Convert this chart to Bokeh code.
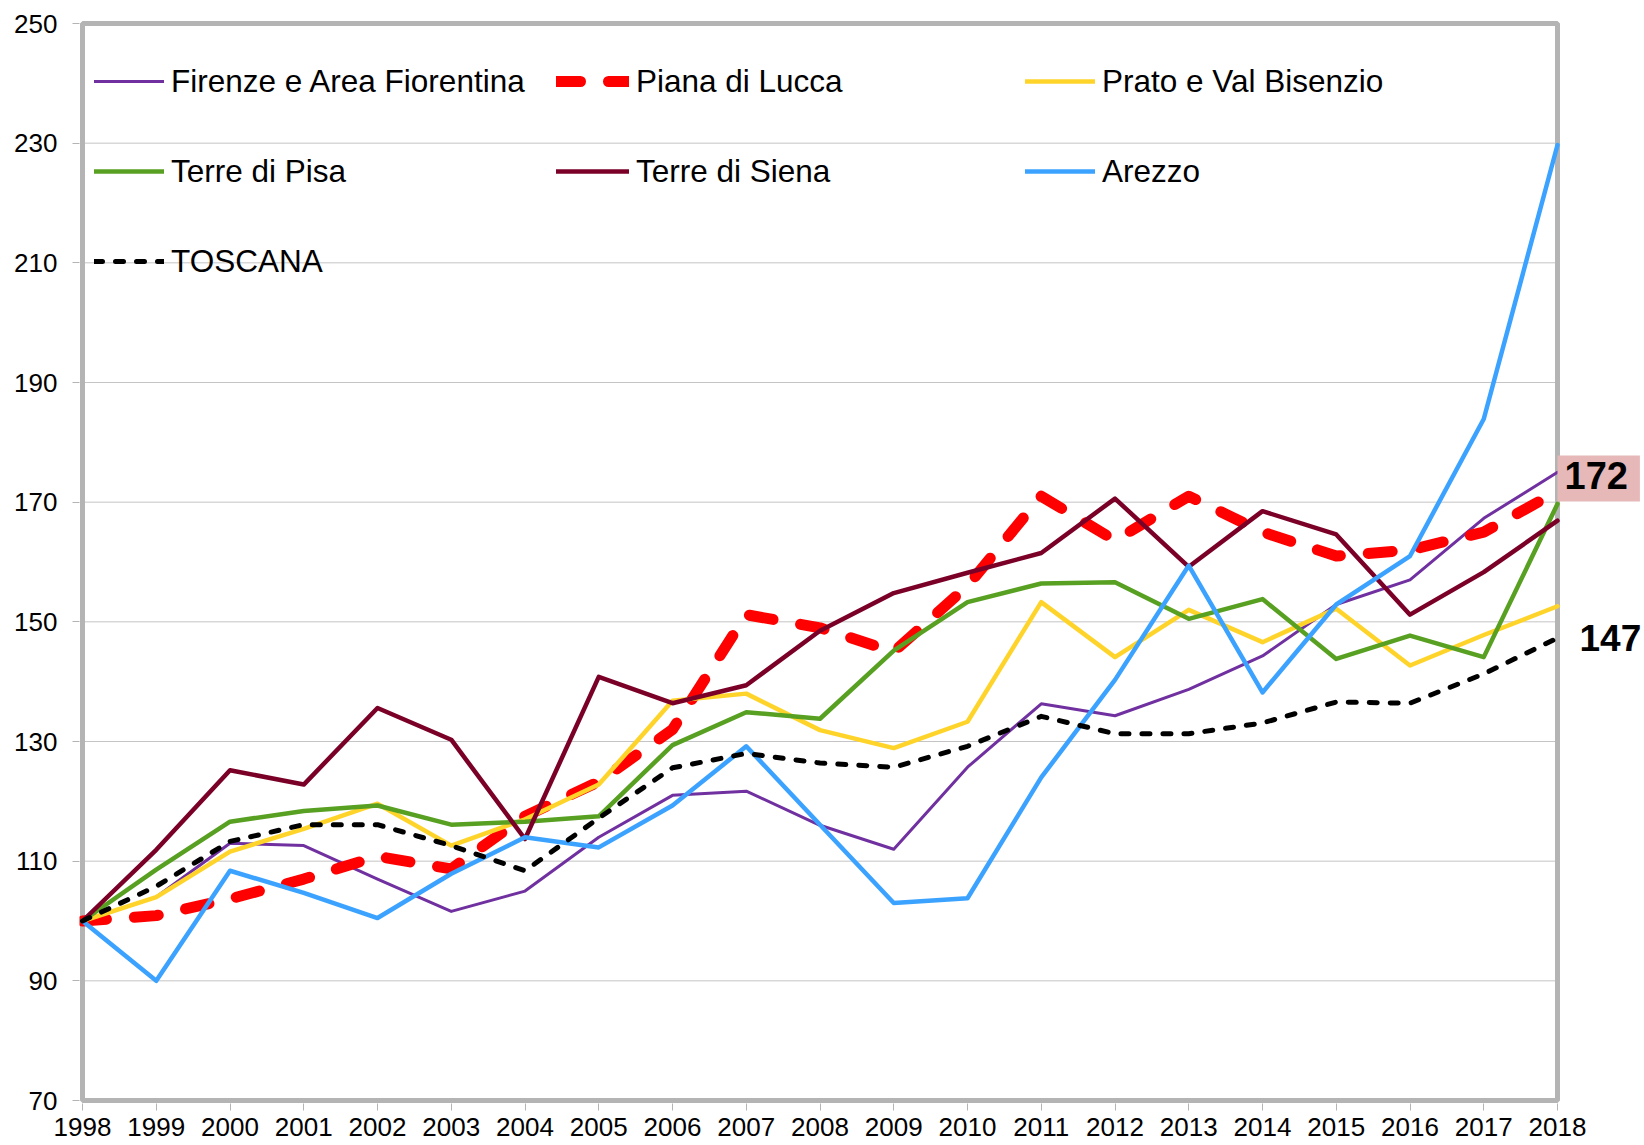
from bokeh.plotting import figure
from bokeh.models import Legend, LegendItem, Label, FixedTicker, Range1d
from bokeh.embed import file_html
from bokeh.resources import INLINE

years = list(range(1998, 2019))
y_ticks = [70, 90, 110, 130, 150, 170, 190, 210, 230, 250]

names = ["Firenze e Area Fiorentina", "Piana di Lucca", "Prato e Val Bisenzio",
         "Terre di Pisa", "Terre di Siena", "Arezzo", "TOSCANA"]

firenze = [100, 104, 113, 112.6, 107, 101.6, 105, 114, 121, 121.7, 116, 112, 125.7,
           136.3, 134.3, 138.7, 144.3, 152.9, 157, 167.3, 175]
lucca = [100, 100.9, 103.7, 107, 110.8, 108.7, 117.5, 123.3, 132, 151.2, 149, 145,
         156, 171, 163.6, 171, 165, 161, 162, 165, 171.8]
prato = [100, 104, 111.6, 115.4, 119.6, 112.6, 117, 122.8, 136.8, 138, 131.9, 128.9,
         133.3, 153.3, 144.1, 152, 146.6, 152.2, 142.7, 147.8, 152.6]
pisa = [100, 108.6, 116.6, 118.4, 119.3, 116.1, 116.6, 117.5, 129.4, 134.9, 133.8,
        145.2, 153.3, 156.4, 156.6, 150.5, 153.8, 143.8, 147.7, 144.1, 169.7]
siena = [100, 111.9, 125.2, 122.8, 135.6, 130.3, 113.7, 140.8, 136.4, 139.4, 148.5,
         154.8, 158.2, 161.5, 170.6, 159.2, 168.5, 164.6, 151.2, 158.3, 166.9]
arezzo = [100, 90, 108.4, 104.7, 100.5, 107.9, 114, 112.3, 119.3, 129.2, 116.1, 103,
          103.8, 124, 140.3, 159.4, 138.2, 152.9, 161, 183.9, 229.7]
toscana = [100, 105.8, 113.3, 116.1, 116.1, 112.6, 108.4, 117.2, 125.6, 128, 126.4,
           125.7, 129.2, 134.2, 131.3, 131.3, 133.1, 136.6, 136.4, 141.3, 147.3]

series = [firenze, lucca, prato, pisa, siena, arezzo, toscana]
colors = ["#7030A0", "#FF0000", "#FFD42A", "#58A021", "#7B0028", "#3BA3FF", "#000000"]
widths = [3, 11, 4.5, 4.5, 4.5, 4.5, 5]
dashes = ["solid", "24 28", "solid", "solid", "solid", "solid", "8 13"]

FONT = "Liberation Sans"
BORDER = "#B4B4B4"

# page layout (pixels)
W, H = 1644, 1145
FL, FR, FT, FB = 79, 1641, 20, 1103          # frame edges
PX0, PX1, PY0, PY1 = 82, 1557, 23, 1100      # plot box (first/last year, top/bottom value)
xs = (PX1 - PX0) / (years[-1] - years[0])
ys = (PY1 - PY0) / (y_ticks[-1] - y_ticks[0])
x_range = Range1d(years[0] - (PX0 - FL) / xs, years[-1] + (FR - PX1) / xs)
y_range = Range1d(y_ticks[0] - (FB - PY1) / ys, y_ticks[-1] + (PY0 - FT) / ys)

p = figure(width=W, height=H, x_range=x_range, y_range=y_range,
           output_backend="svg", toolbar_location=None,
           min_border_left=FL, min_border_top=FT, min_border_right=W - FR,
           min_border_bottom=H - FB)
p.background_fill_color = "white"
p.border_fill_color = "white"
p.outline_line_color = None
p.xgrid.grid_line_color = None
p.ygrid.grid_line_color = None

p.xaxis.ticker = FixedTicker(ticks=years)
p.yaxis.ticker = FixedTicker(ticks=y_ticks)
for ax in (p.xaxis, p.yaxis):
    ax.axis_line_color = None
    ax.major_tick_line_color = BORDER
    ax.major_tick_line_width = 1
    ax.major_tick_in = 0
    ax.major_tick_out = 7
    ax.minor_tick_line_color = None
    ax.major_label_text_font = FONT
    ax.major_label_text_font_size = "26px"
    ax.major_label_text_color = "black"
p.yaxis.major_label_standoff = 15
p.xaxis.major_label_standoff = 7

# horizontal gridlines limited to the plot box
n = len(y_ticks)
p.segment(x0=[years[0]] * n, x1=[years[-1]] * n, y0=y_ticks, y1=y_ticks,
          line_color="#C4C4C4", line_width=1)
# plot-area border
p.quad(left=[years[0]], right=[years[-1]], bottom=[y_ticks[0]], top=[y_ticks[-1]],
       fill_color=None, line_color=BORDER, line_width=5)

rs = []
for vals, c, w, d in zip(series, colors, widths, dashes):
    r = p.line(years, vals, line_color=c, line_width=w, line_dash=d,
               line_cap="round", line_join="round")
    rs.append(r)

fh = FB - FT
top = 41

def make_legend(idx, x, gw):
    k = len(idx)
    hgt = 40 * k + 50 * (k - 1)
    leg = Legend(items=[LegendItem(label=names[i], renderers=[rs[i]]) for i in idx],
                 location=(x, fh - top - hgt))
    leg.label_text_font = FONT
    leg.label_text_font_size = "31.5px"
    leg.label_text_color = "black"
    leg.glyph_width = gw
    leg.glyph_height = 40
    leg.label_height = 40
    leg.label_standoff = 7
    leg.spacing = 50
    leg.padding = 0
    leg.margin = 0
    leg.border_line_color = None
    leg.background_fill_alpha = 0
    return leg

p.add_layout(make_legend([0, 3, 6], 94 - FL, 70))
p.add_layout(make_legend([1, 4], 556 - FL, 73))
p.add_layout(make_legend([2, 5], 1025 - FL, 70))

lab1 = Label(x=years[-1], y=lucca[-1], text=f"{lucca[-1]:.0f}", x_offset=0, y_offset=13,
             text_font=FONT, text_font_size="38px", text_font_style="bold",
             text_align="left", text_baseline="middle", text_color="black",
             background_fill_color="#E6B8B7", padding=(7, 12, 7, 12))
lab2 = Label(x=years[-1], y=toscana[-1], text=f"{toscana[-1]:.0f}", x_offset=22, y_offset=0,
             text_font=FONT, text_font_size="37px", text_font_style="bold",
             text_align="left", text_baseline="middle", text_color="black")
p.add_layout(lab1)
p.add_layout(lab2)

open("out.html", "w").write(file_html(p, INLINE))
